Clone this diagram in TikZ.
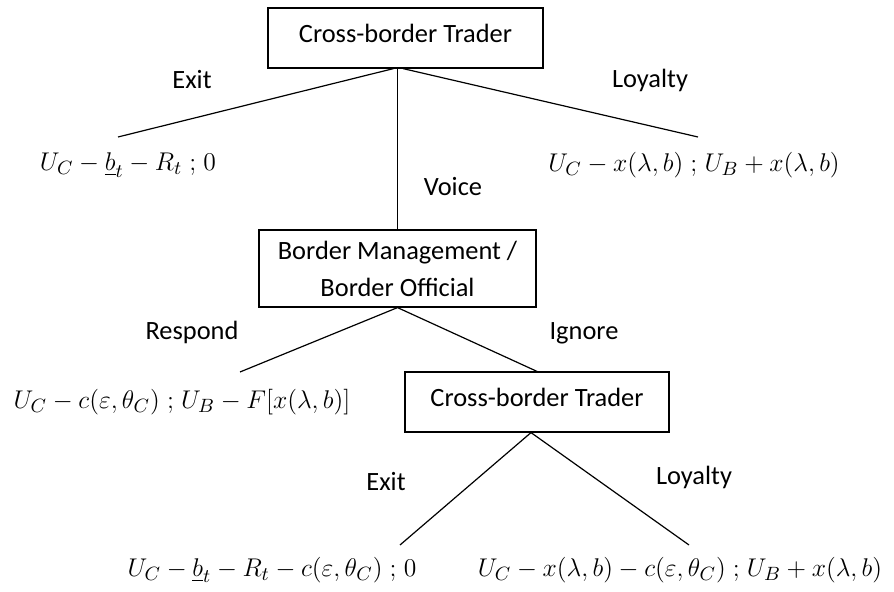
\documentclass[tikz,border=0pt]{standalone}
\usepackage{amsmath, amssymb}
\usepackage{graphicx}
\usepackage{fontspec}
\setmainfont{Carlito}
\usepackage{tikz}
\usetikzlibrary{positioning, calc}
\newcommand{\pay}[1]{\scalebox{1.067}{$#1$}}

\begin{document}
\begin{tikzpicture}[x=0.5pt, y=-0.5pt,
    player/.style={draw, line width=0.6pt, minimum height=30pt, inner sep=0pt, align=center, font=\fontsize{13.2}{18.5}\selectfont},
    move/.style={font=\fontsize{13.2}{16}\selectfont},
    payoff/.style={inner sep=0pt, font=\fontsize{13.2}{16}\selectfont},
    branch/.style={line width=0.6pt}]
    \useasboundingbox (0,0) rectangle (894,592);

    % Players
    \node[player, minimum width=137.5pt, text depth=5pt] (trader) at (405.5,38) {Cross-border Trader};
    \node[player, minimum width=138.5pt, minimum height=38.5pt] (official) at (397.5,268.5) {Border Management /\\Border Official};
    \node[player, minimum width=132pt, text depth=5pt] (trader2) at (537,402) {Cross-border Trader};

    % Payoffs
    \node[payoff] (payExit) at (128,165) {\pay{U_C-\underline{b}_t-R_t\mathrel{;}0}};
    \node[payoff] (payLoyal) at (694,165) {\pay{U_C-x(\lambda,b)\mathrel{;}U_B+x(\lambda,b)}};
    \node[payoff] (payRespond) at (182,402) {\pay{U_C-c(\varepsilon,\theta_C)\mathrel{;}U_B-F[x(\lambda,b)]}};
    \node[payoff] (payExit2) at (272,570) {\pay{U_C-\underline{b}_t-R_t-c(\varepsilon,\theta_C)\mathrel{;}0}};
    \node[payoff] (payLoyal2) at (680,570) {\pay{U_C-x(\lambda,b)-c(\varepsilon,\theta_C)\mathrel{;}U_B+x(\lambda,b)}};

    % Branch ends above the payoffs
    \coordinate (endExit) at (118,137);
    \coordinate (endLoyal) at (698,137);
    \coordinate (endRespond) at (240,372);
    \coordinate (endExit2) at (400,545);
    \coordinate (endLoyal2) at (689,545);

    % Branches
    \draw[branch] ([xshift=-6pt]trader.south) -- (endExit);
    \draw[branch] (trader.south -| official.north) -- (official.north);
    \draw[branch] ([xshift=-1.25pt]trader.south) -- (endLoyal);
    \draw[branch] (official.south) -- (endRespond);
    \draw[branch] (official.south) -- (trader2.north);
    \draw[branch] ([xshift=-3pt]trader2.south) -- (endExit2);
    \draw[branch] ([xshift=-3pt]trader2.south) -- (endLoyal2);

    % Move labels
    \node[move] (lblExit) at (192,80) {Exit};
    \node[move] (lblLoyal) at (650,80) {Loyalty};
    \node[move] (lblVoice) at (453,187) {Voice};
    \node[move] (lblRespond) at (192,332) {Respond};
    \node[move] (lblIgnore) at (584,333) {Ignore};
    \node[move] (lblExit2) at (386,482) {Exit};
    \node[move] (lblLoyal2) at (694,477) {Loyalty};

\end{tikzpicture}
\end{document}
